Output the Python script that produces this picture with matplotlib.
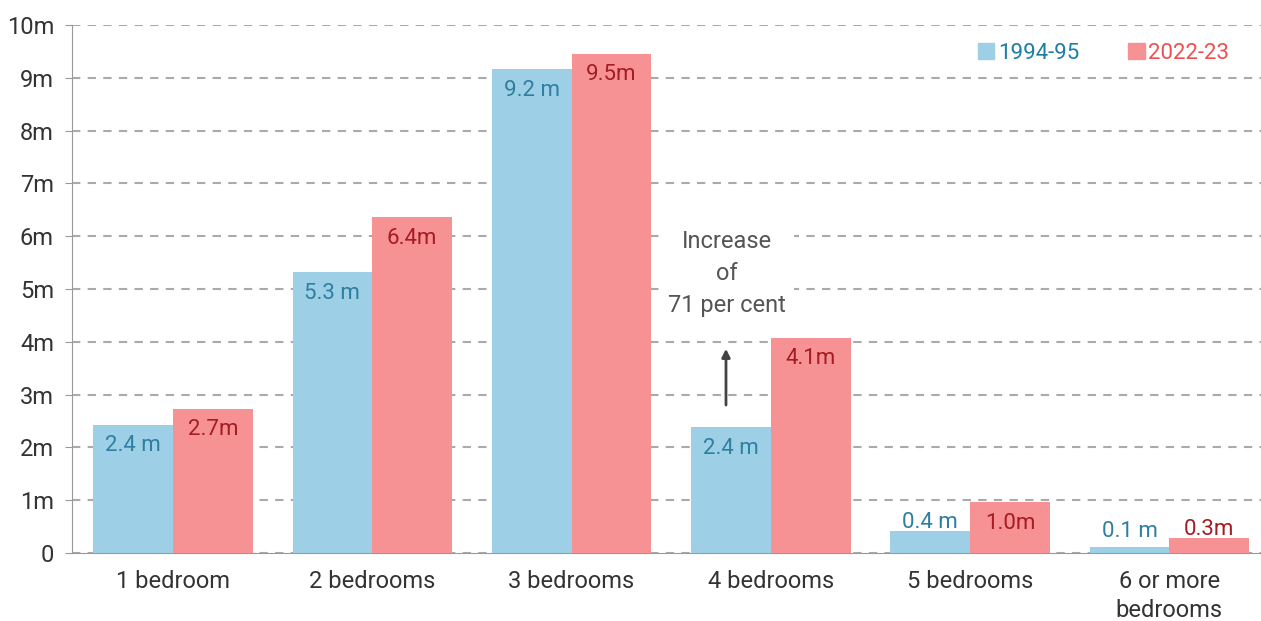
import matplotlib.pyplot as plt
import matplotlib.patches as mpatches
import numpy as np

plt.rcParams['font.family'] = ['Roboto', 'DejaVu Sans']

categories = ['1 bedroom', '2 bedrooms', '3 bedrooms', '4 bedrooms', '5 bedrooms', '6 or more\nbedrooms']
vals_1994 = [2.43, 5.32, 9.16, 2.38, 0.42, 0.12]
vals_2022 = [2.73, 6.36, 9.46, 4.08, 0.96, 0.29]
labels_1994 = ['2.4 m', '5.3 m', '9.2 m', '2.4 m', '0.4 m', '0.1 m']
labels_2022 = ['2.7m', '6.4m', '9.5m', '4.1m', '1.0m', '0.3m']
yticks = [0, 1, 2, 3, 4, 5, 6, 7, 8, 9, 10]
ytick_labels = ['0', '1m', '2m', '3m', '4m', '5m', '6m', '7m', '8m', '9m', '10m']

blue = '#9dd0e6'
red = '#f69294'
blue_txt = '#2f7fa0'
red_txt = '#a51c22'
fs = 16
fs_big = 17

fig = plt.figure(figsize=(12.61, 6.21), dpi=100)
ax = fig.add_axes([72/1261, 1-553/621, (1261-72)/1261, (553-25)/621])

x = np.arange(len(categories))
w = 0.4
ax.bar(x - w/2, vals_1994, w, color=blue, zorder=3)
ax.bar(x + w/2, vals_2022, w, color=red, zorder=3)

for i in range(len(x)):
    v = vals_1994[i]
    if v > 0.9:
        ax.text(x[i] - w/2, v - 0.2, labels_1994[i], ha='center', va='top', fontsize=fs, color=blue_txt, zorder=4)
    else:
        ax.text(x[i] - w/2, max(v, 0.25) - 0.04, labels_1994[i], ha='center', va='bottom', fontsize=fs, color=blue_txt, zorder=4)
    v = vals_2022[i]
    if v > 0.9:
        ax.text(x[i] + w/2, v - 0.2, labels_2022[i], ha='center', va='top', fontsize=fs, color=red_txt, zorder=4)
    else:
        ax.text(x[i] + w/2, max(v, 0.25) - 0.04, labels_2022[i], ha='center', va='bottom', fontsize=fs, color=red_txt, zorder=4)

# annotation for 4 bedrooms
ax.annotate('', xy=(x[3] - 0.225, 3.92), xytext=(x[3] - 0.225, 2.75),
            arrowprops=dict(arrowstyle='-|>', color='#444444', lw=2, mutation_scale=12), zorder=4)
ax.text(x[3] - 0.22, 5.3, 'Increase\nof\n71 per cent', ha='center', va='center',
        fontsize=fs_big, color='#555555', linespacing=1.5, zorder=4,
        bbox=dict(facecolor='white', edgecolor='none', pad=6))

ax.set_xlim(-0.507, 5.46)
ax.set_ylim(0, 10)
ax.set_yticks(yticks)
ax.set_yticklabels(ytick_labels)
ax.set_xticks(x)
ax.set_xticklabels(categories, linespacing=1.35)
ax.yaxis.grid(True, linestyle=(0, (4, 3.5)), color='#aaaaaa', lw=1.5, zorder=0)
ax.tick_params(axis='y', length=5, color='#999999', labelsize=fs_big, labelcolor='#333333', pad=8)
ax.tick_params(axis='x', length=0, labelsize=fs_big, labelcolor='#333333', pad=12)
for s in ['top', 'right']:
    ax.spines[s].set_visible(False)
ax.spines['left'].set_color('#999999')
ax.spines['bottom'].set_color('#999999')

handles = [mpatches.Patch(color=blue, label='1994-95'), mpatches.Patch(color=red, label='2022-23')]
leg = ax.legend(handles=handles, ncol=2, loc='upper right', bbox_to_anchor=(0.988, 1.0),
                frameon=True, facecolor='white', edgecolor='none', framealpha=1,
                fontsize=fs, handlelength=0.75, handleheight=0.75, handletextpad=0.15,
                columnspacing=2.2, borderpad=0.3)
leg.get_texts()[0].set_color('#1f7ea4')
leg.get_texts()[1].set_color('#ee5050')

fig.savefig('out.png', dpi=100)
